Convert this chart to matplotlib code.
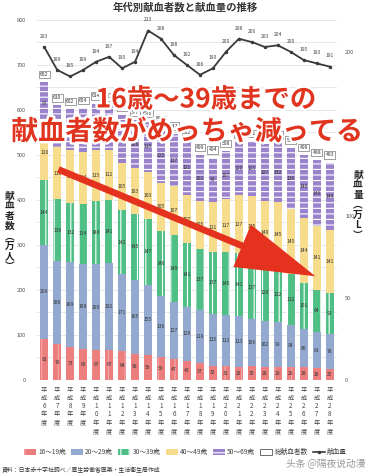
import numpy as np
import matplotlib.pyplot as plt
import matplotlib.patheffects as pe
from matplotlib.patches import Patch
from matplotlib.lines import Line2D

plt.rcParams['font.family'] = ['Noto Sans CJK JP', 'DejaVu Sans']
plt.rcParams['hatch.linewidth'] = 0.8

# 年度 (平成6〜28年度)
nendo = ['6', '7', '8', '9', '10', '11', '12', '13', '14', '15', '16', '17',
         '18', '19', '20', '21', '22', '23', '24', '25', '26', '27', '28']

# 献血者数 (万人), 年代別
age16_19 = [92, 79, 73, 69, 67, 67, 64, 58, 56, 50, 47, 43, 37, 32, 31, 29, 30, 28, 29, 29, 28, 26, 25]
age20_29 = [209, 186, 189, 189, 190, 192, 171, 165, 155, 136, 127, 120, 118, 115, 113, 113, 106, 102, 99, 94, 86, 81, 78]
age30_39 = [144, 136, 132, 134, 140, 141, 142, 145, 147, 146, 149, 141, 137, 137, 140, 141, 137, 128, 122, 112, 101, 94, 90]
age40_49 = [120, 116, 117, 114, 115, 112, 105, 103, 103, 105, 107, 107, 105, 111, 117, 127, 135, 140, 145, 145, 144, 141, 141]
age50_69 = [97, 93, 91, 98, 102, 100, 106, 106, 115, 125, 117, 121, 102, 99, 107, 120, 123, 127, 132, 136, 140, 146, 149]
total = [662, 610, 602, 604, 614, 612, 588, 577, 576, 562, 547, 532, 499, 494, 508, 530, 531, 525, 527, 516, 499, 488, 483]

# 献血量 (万L)
ryou = [203, 189, 185, 189, 194, 197, 190, 194, 213, 208, 198, 192, 186, 190, 200, 208, 206, 203, 204, 200, 195, 193, 191]

series = [
    ('16～19歳', age16_19, '#EC7E7E', '|', '#F4A8A8'),
    ('20～29歳', age20_29, '#93A9D0', None, None),
    ('30～39歳', age30_39, '#4FBF86', '||', 'white'),
    ('40～49歳', age40_49, '#F7DC8E', None, None),
    ('50～69歳', age50_69, '#9A83CC', '---', 'white'),
]

fig = plt.figure(figsize=(3.71, 4.76), dpi=100)
ax = fig.add_axes([0.1, 0.2017, 0.808, 0.7565])
x = np.arange(len(nendo))

bottom = np.zeros(len(nendo))
for name, vals, col, hatch, hcol in series:
    vals = np.array(vals)
    bars = ax.bar(x, vals, 0.62, bottom=bottom, color=col, hatch=hatch,
                  edgecolor=hcol if hcol else col, linewidth=0, zorder=2)
    ax.bar_label(bars, labels=[str(v) for v in vals], label_type='center',
                 fontsize=3.6, color='#333333', zorder=4)
    bottom += vals

# 総献血者数
for xi, t in zip(x, total):
    ax.text(xi, t + 17, str(t), ha='center', va='center', fontsize=3.6, color='#333333', zorder=5,
            bbox=dict(boxstyle='square,pad=0.25', fc='white', ec='#777777', lw=0.5))

ax.set_xlim(-0.55, 22.55)
ax.set_ylim(0, 800)
ax.set_yticks(range(0, 801, 100))
ax.set_yticks(range(50, 800, 100), minor=True)
ax.grid(axis='y', which='both', color='#DDDDDD', lw=0.5, zorder=0)
ax.tick_params(axis='y', labelsize=4, colors='#555555', length=0, pad=8)
ax.tick_params(axis='y', which='minor', length=0)
ax.set_xticks(x)
ax.set_xticklabels(['\n'.join('平成' + n + '年度') for n in nendo],
                   fontsize=4.5, color='#444444', linespacing=1.05, va='top')
ax.tick_params(axis='x', length=0, pad=4)
for s in ax.spines.values():
    s.set_visible(False)

ax2 = ax.twinx()
ax2.plot(x, ryou, color='#3A3A3A', lw=1.3, marker='o', ms=1.5, zorder=6)
for xi, r in zip(x, ryou):
    ax2.text(xi, r + 5, str(r), ha='center', va='bottom', fontsize=3.6, color='#444444')
ax2.set_ylim(0, 219.5)
ax2.set_yticks([0, 50, 100, 150, 200])
ax2.tick_params(axis='y', labelsize=4, colors='#555555', length=0, pad=6)
for s in ax2.spines.values():
    s.set_visible(False)

fig.text(0.5, 0.985, '年代別献血者数と献血量の推移', ha='center', va='center',
         fontsize=7.5, fontweight='bold', color='#333333')
fig.text(0.025, 0.515, '\n'.join('献血者数︵万人︶'), ha='center', va='center',
         fontsize=7, fontweight='bold', color='#222222', linespacing=1.0)
fig.text(0.965, 0.57, '\n'.join('献血量︵万L︶'), ha='center', va='center',
         fontsize=7, fontweight='bold', color='#222222', linespacing=1.0)

# 矢印
ax.annotate('', xy=(21.1, 228), xytext=(0.9, 470),
            arrowprops=dict(arrowstyle='simple,head_length=2.6,head_width=1.5,tail_width=0.22',
                            mutation_scale=22, color='#E4321E', lw=0), zorder=7)

stroke = [pe.withStroke(linewidth=3.5, foreground='white')]
fig.text(0.555, 0.79, '16歳～39歳までの', ha='center', va='center', fontsize=19,
         fontweight='bold', color='#E0341F', path_effects=stroke)
fig.text(0.505, 0.723, '献血者数がめっちゃ減ってる', ha='center', va='center', fontsize=19.5,
         fontweight='bold', color='#E0341F', path_effects=stroke)

handles = [Patch(fc=c, hatch=h, ec=hc if hc else c, lw=0) for _, _, c, h, hc in series]
handles.append(Patch(fc='white', ec='#555555', lw=0.6))
handles.append(Line2D([0], [0], color='#3A3A3A', lw=1.2, marker='o', ms=1.5))
labels = [s[0] for s in series] + ['総献血者数', '献血量']
fig.legend(handles, labels, loc='center', bbox_to_anchor=(0.5, 0.05), ncol=7, fontsize=4.8,
           frameon=False, handlelength=1.8, handleheight=1.0, columnspacing=0.8,
           handletextpad=0.3, labelcolor='#444444')

fig.text(0.005, 0.013, '資料：日本赤十字社調べ／厚生労働省医薬・生活衛生局作成', fontsize=4.2,
         color='#333333', va='center')
fig.text(0.985, 0.025, '头条 @隔夜说动漫', ha='right', va='center', fontsize=7,
         color='#999999', family=['Noto Sans CJK SC', 'DejaVu Sans'])

fig.savefig('out.png', dpi=100)
